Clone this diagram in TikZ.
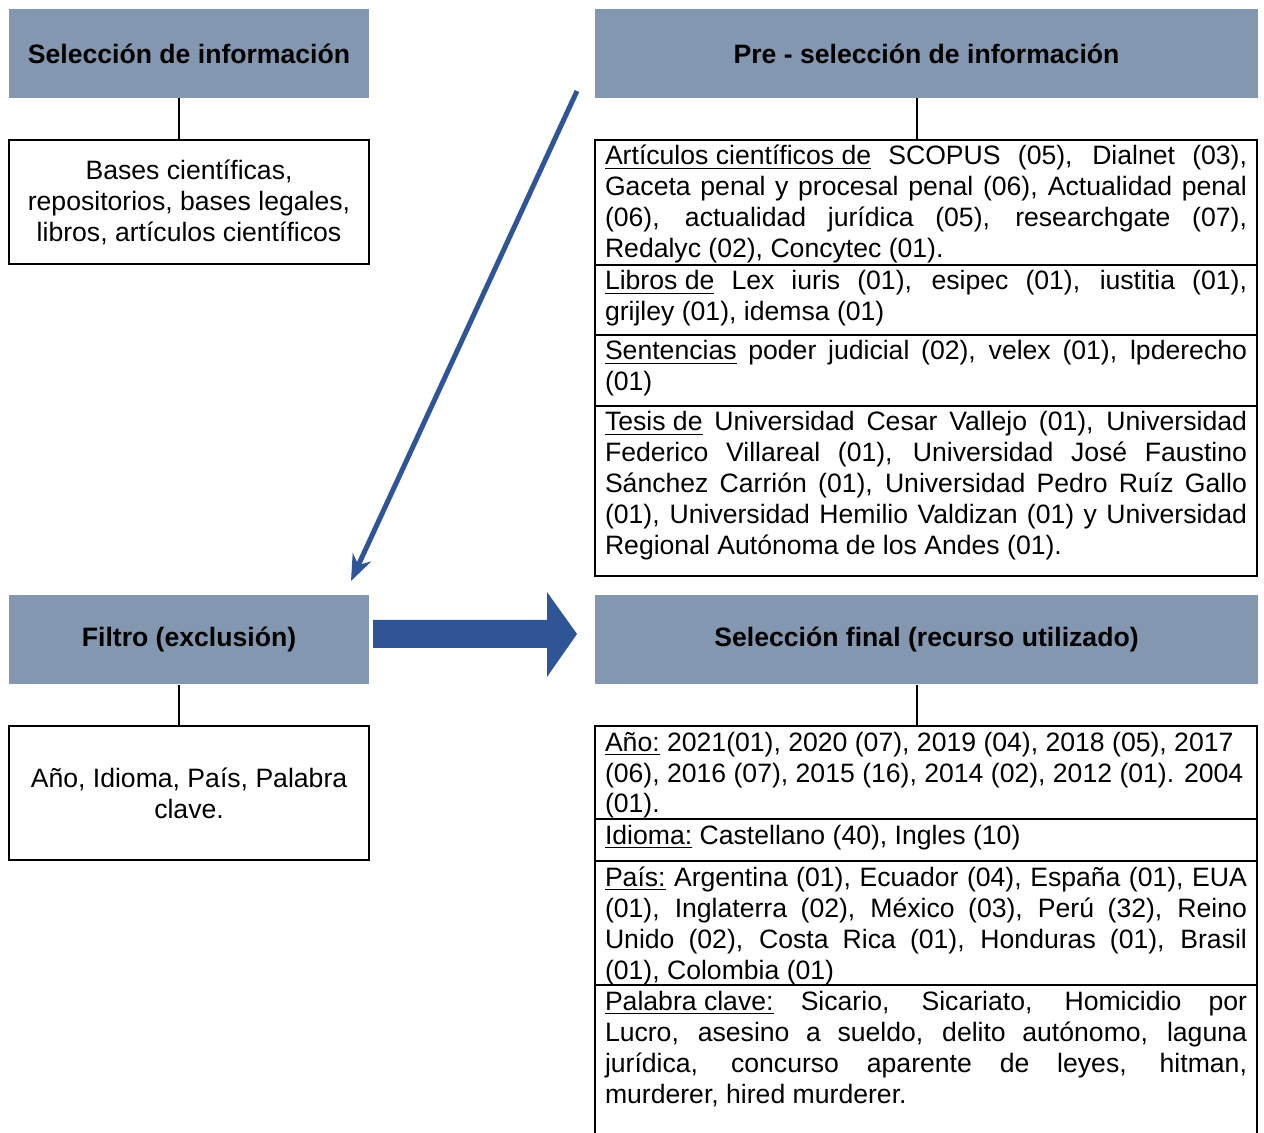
\documentclass[tikz,border=0pt]{standalone}
\usepackage{fontspec}
\setmainfont{Liberation Sans}
\usetikzlibrary{positioning,arrows.meta}
\definecolor{cabecera}{HTML}{8497B0}
\definecolor{flecha}{HTML}{2F5597}
\newcommand{\jline}[1]{\makebox[\linewidth][s]{#1}\\}% justified line
\newcommand{\celda}[2]{\parbox[b][#1][t]{321pt}{\rule{0pt}{12.5pt}#2}}% text at top of a row
\tikzset{
	letra/.style={font=\fontsize{13.3pt}{15.5pt}\selectfont},
	cabeza/.style={fill=cabecera, minimum width=180pt, minimum height=44.5pt, inner sep=0pt, font=\fontsize{13.3pt}{15.5pt}\selectfont\bfseries},
	caja/.style={letra, draw, line width=1pt, minimum width=180pt, align=center, inner sep=0pt},
	fila/.style={letra, draw, line width=1pt, inner xsep=5pt, inner ysep=0pt, outer sep=0pt},
	enlace/.style={line width=1pt},
}
\begin{document}
\begin{tikzpicture}[x=0.5pt,y=-0.5pt]
	\useasboundingbox (0,0) rectangle (1264,1133);
	% left column
	\node[cabeza] (sel) at (189,53.5) {Selección de información};
	\node[caja, minimum height=62pt] (bases) at (189,202) {Bases científicas,\\ repositorios, bases legales,\\ libros, artículos científicos};
	\node[cabeza] (fil) at (189,640) {Filtro (exclusión)};
	\node[caja, minimum height=67pt] (criterios) at (189,793) {Año, Idioma, País, Palabra\\ clave.};
	\draw[enlace] ([xshift=-5pt]sel.south) -- ([xshift=-5pt]bases.north);
	\draw[enlace] ([xshift=-5pt]fil.south) -- ([xshift=-5pt]criterios.north);
	% right column, pre-selection
	\node[cabeza, minimum width=331.5pt] (pre) at (926.5,53.5) {Pre - selección de información};
	\node[fila, anchor=north west] (r1) at (595,140) {\celda{62.5pt}{%
		\jline{\underline{Artículos científicos de} SCOPUS (05),  Dialnet (03),}%
		\jline{Gaceta penal y procesal penal (06), Actualidad penal}%
		\jline{(06), actualidad jurídica (05), researchgate (07),}%
		Redalyc (02), Concytec (01).}};
	\node[fila, below=0pt of r1] (r2) {\celda{35pt}{%
		\jline{\underline{Libros de} Lex iuris (01), esipec (01),  iustitia (01),}%
		grijley (01), idemsa (01)}};
	\node[fila, below=0pt of r2] (r3) {\celda{35.5pt}{%
		\jline{\underline{Sentencias} poder judicial (02), velex (01), lpderecho}%
		(01)}};
	\node[fila, below=0pt of r3] (r4) {\celda{85pt}{%
		\jline{\underline{Tesis de} Universidad Cesar Vallejo (01), Universidad}%
		\jline{Federico Villareal (01), Universidad José Faustino}%
		\jline{Sánchez Carrión (01), Universidad Pedro Ruíz Gallo}%
		\jline{(01), Universidad Hemilio Valdizan (01) y Universidad}%
		Regional Autónoma de los Andes (01).}};
	\draw[enlace] ([xshift=-5pt]pre.south) -- ([xshift=-5pt]pre.south |- r1.north);
	% right column, final selection
	\node[cabeza, minimum width=331.5pt] (fin) at (926.5,640) {Selección final (recurso utilizado)};
	\node[fila, anchor=north west] (s1) at (595,726) {\celda{46.5pt}{%
		\underline{Año:} 2021(01), 2020 (07), 2019 (04), 2018 (05), 2017\\
		(06), 2016 (07), 2015 (16), 2014 (02), 2012 (01). 2004\\
		(01).}};
	\node[fila, below=0pt of s1] (s2) {\celda{21pt}{%
		\underline{Idioma:} Castellano (40), Ingles (10)}};
	\node[fila, below=0pt of s2] (s3) {\celda{62pt}{%
		\jline{\underline{País:} Argentina (01), Ecuador (04), España (01), EUA}%
		\jline{(01), Inglaterra (02), México (03), Perú (32), Reino}%
		\jline{Unido (02), Costa Rica (01), Honduras (01), Brasil}%
		(01), Colombia (01)}};
	\node[fila, below=0pt of s3] (s4) {\celda{80pt}{%
		\jline{\underline{Palabra clave:} Sicario, Sicariato,  Homicidio por}%
		\jline{Lucro, asesino a sueldo, delito autónomo, laguna}%
		\jline{jurídica,  concurso aparente de leyes, hitman,}%
		murderer, hired murderer.}};
	\draw[enlace] ([xshift=-5pt]fin.south) -- ([xshift=-5pt]fin.south |- s1.north);
	% arrows
	\coordinate (d1) at (577,91);
	\coordinate (d2) at (351,581);
	\draw[-{Stealth[length=13pt,width=10pt]}, line width=2.5pt, flecha] (d1) -- (d2);% back to the filter
	\fill[flecha] (373,620) -- (547,620) -- (547,592) -- (577,634) -- (547,677) -- (547,648) -- (373,648) -- cycle;% block arrow
\end{tikzpicture}
\end{document}
